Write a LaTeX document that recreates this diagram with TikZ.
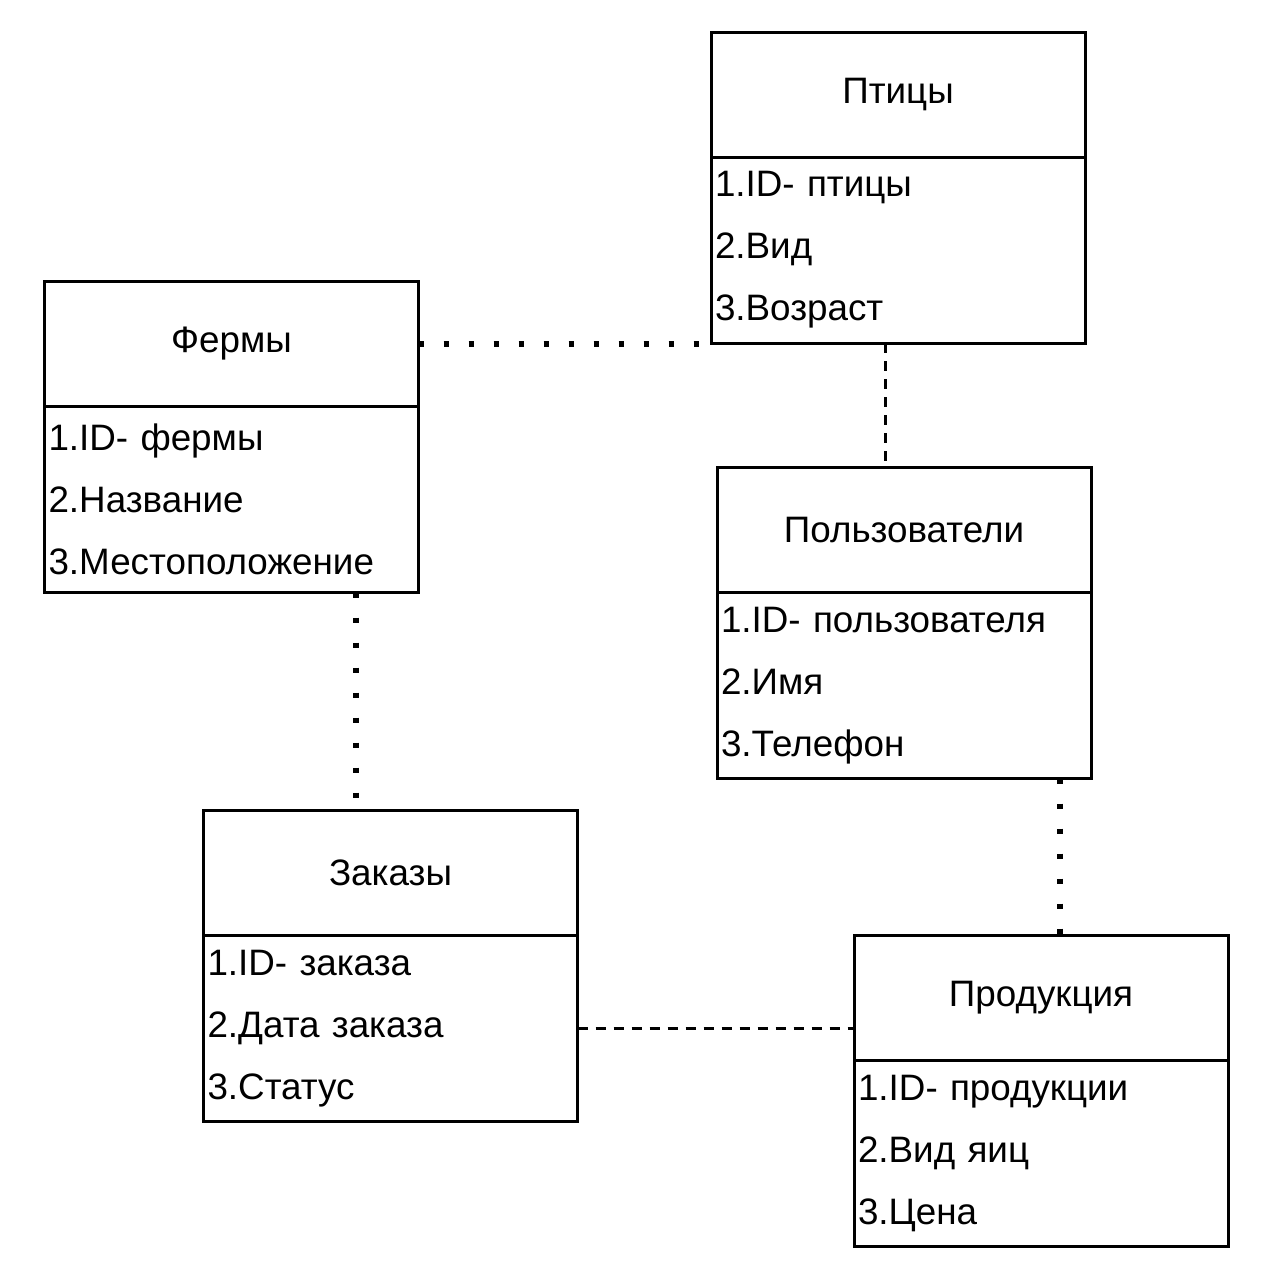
\documentclass[tikz,border=0pt]{standalone}
\usepackage{fontspec}
\setmainfont{Liberation Sans}
\usetikzlibrary{positioning}
\tikzset{
	head/.style={draw,line width=1.5pt,outer sep=0pt,minimum width=187pt,minimum height=62.5pt,inner sep=0pt},
	body/.style={draw,line width=1.5pt,outer sep=0pt,text width=183pt,inner xsep=2pt,minimum height=93pt,align=left},
	dotlink/.style={line width=2.7pt,dash pattern=on 2.7pt off 9.8pt},
	dashlink/.style={line width=1.5pt,dash pattern=on 5pt off 4pt}
}
\begin{document}
\begin{tikzpicture}[x=0.5pt,y=-0.5pt,font=\fontsize{18.4}{31}\selectfont]
	\useasboundingbox (0,0) rectangle (1261,1280);
	% tables
	\node[head] (ptH) at (898,94.5) {Птицы};
	\node[body,below=0pt of ptH] (ptB) {1.ID- птицы\\2.Вид\\3.Возраст};
	\node[head] (fmH) at (231.5,344) {Фермы};
	\node[body,below=0pt of fmH] (fmB) {1.ID- фермы\\2.Название\\3.Местоположение};
	\node[head] (pzH) at (904,530) {Пользователи};
	\node[body,below=0pt of pzH] (pzB) {1.ID- пользователя\\2.Имя\\3.Телефон};
	\node[head] (zkH) at (390.5,873) {Заказы};
	\node[body,below=0pt of zkH] (zkB) {1.ID- заказа\\2.Дата заказа\\3.Статус};
	\node[head] (prH) at (1041,997.5) {Продукция};
	\node[body,below=0pt of prH] (prB) {1.ID- продукции\\2.Вид яиц\\3.Цена};
	% links
	\draw[dotlink] (fmH.east) -- (fmH.east -| ptB.west);
	\draw[dashlink] ([xshift=-6.5pt]ptB.south) -- ([xshift=-6.5pt]ptB.south |- pzH.north);
	\draw[dotlink] ([xshift=-17.25pt]zkH.north |- fmB.south) -- ([xshift=-17.25pt]zkH.north);
	\draw[dotlink] ([xshift=9.5pt]prH.north |- pzB.south) -- ([xshift=9.5pt]prH.north);
	\draw[dashlink] (zkB.east) -- (zkB.east -| prH.west);
\end{tikzpicture}
\end{document}
